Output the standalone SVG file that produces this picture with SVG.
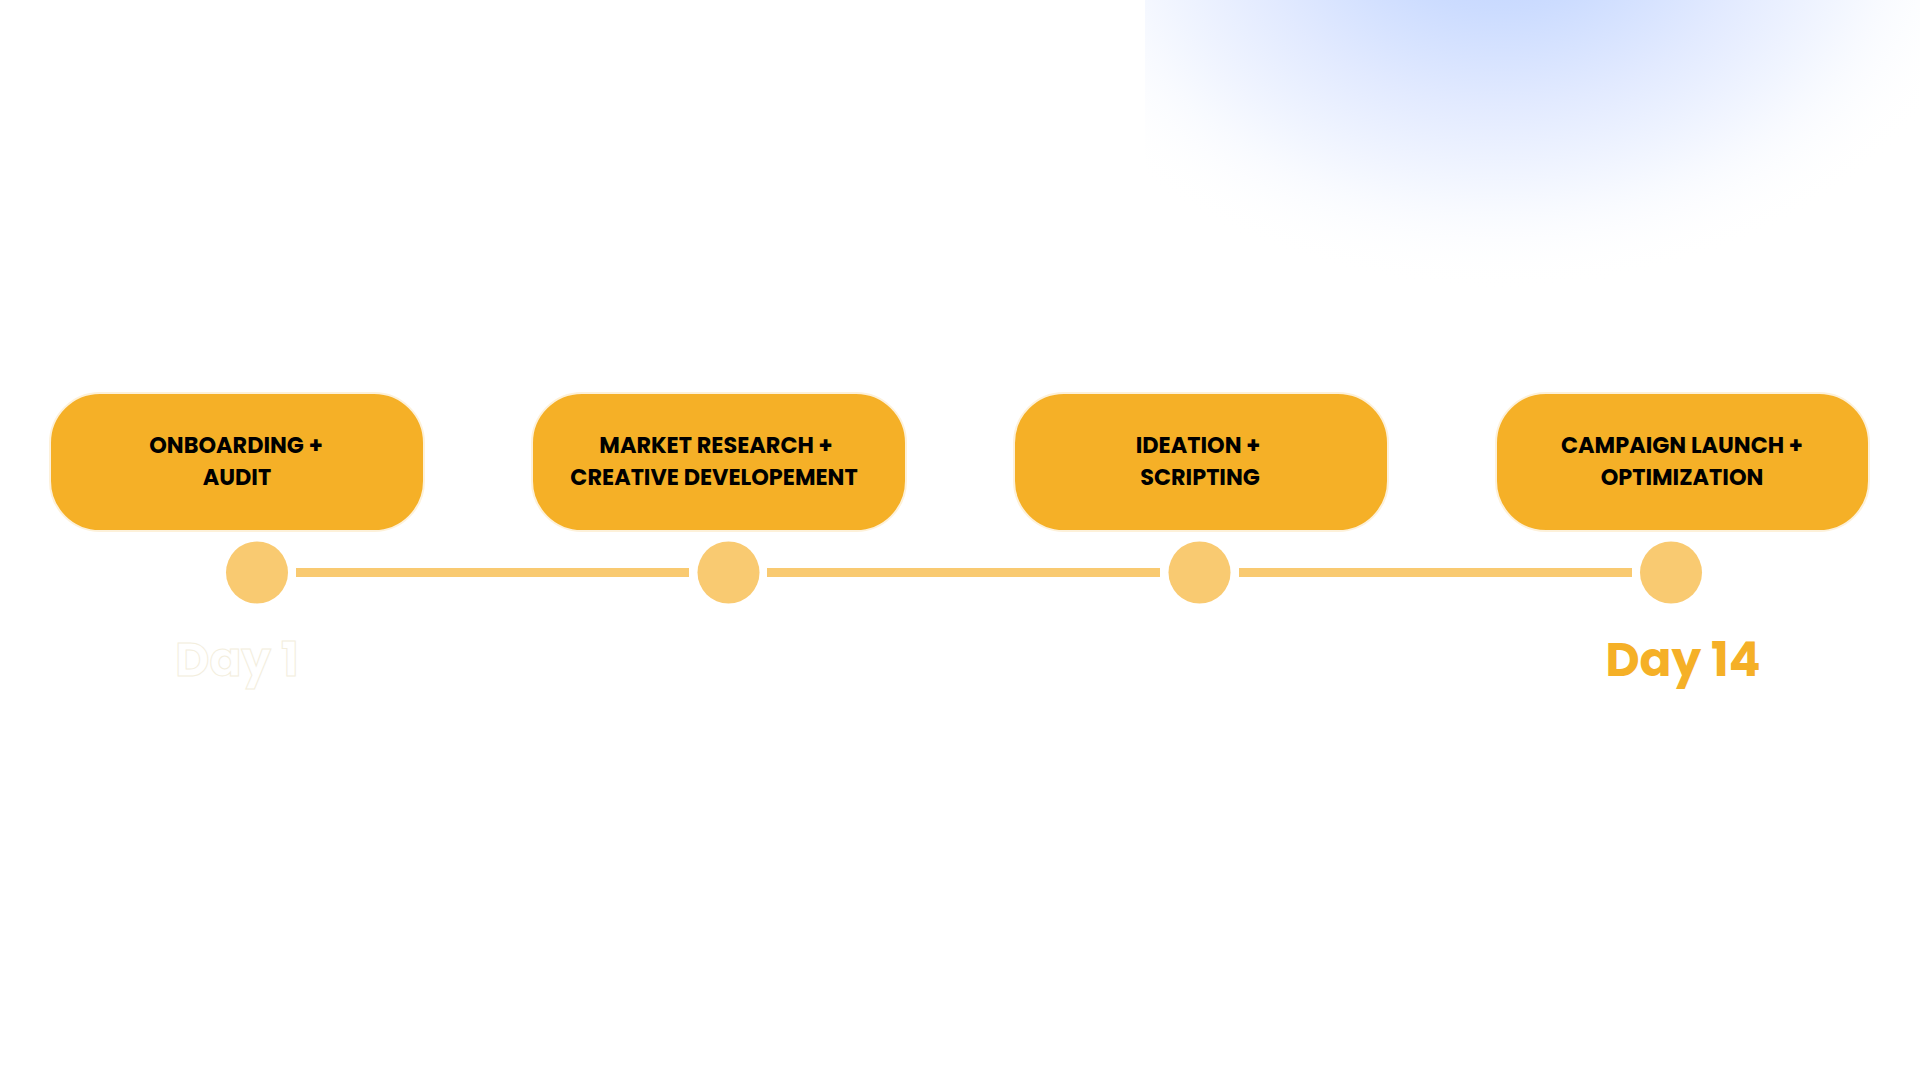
<svg xmlns="http://www.w3.org/2000/svg" width="1920" height="1080" viewBox="0 0 1920 1080">
<style>
.box{fill:#F5B027;stroke:#FDF1DA;stroke-width:2}
.lbl{font-family:Poppins,Inter,"Noto Sans",sans-serif;font-weight:700;font-size:22.4px;fill:#000;text-anchor:middle}
.dot{fill:#F9CA71}
.seg{stroke:#F9CA71;stroke-width:9}
.day{font-family:Poppins,Inter,"Noto Sans",sans-serif;font-weight:700;font-size:47px;text-anchor:middle}
</style>
<defs>
<radialGradient id="glow" gradientUnits="userSpaceOnUse" cx="0" cy="0" r="1" gradientTransform="translate(1500,-80) scale(500,370)">
<stop offset="0" stop-color="#BCD0FF"/>
<stop offset="0.25" stop-color="#CCDCFF"/>
<stop offset="0.5" stop-color="#E2EAFF"/>
<stop offset="0.75" stop-color="#F5F8FF"/>
<stop offset="1" stop-color="#FFFFFF" stop-opacity="0"/>
</radialGradient>
<clipPath id="gclip"><rect x="1145" y="0" width="775" height="400"/></clipPath>
</defs>
<rect x="0" y="0" width="1920" height="1080" fill="#FFFFFF"/>
<rect x="1145" y="0" width="775" height="400" fill="url(#glow)" clip-path="url(#gclip)"/>
<g id="connectors">
<line class="seg" x1="296" y1="572.5" x2="689" y2="572.5"/>
<line class="seg" x1="767" y1="572.5" x2="1160" y2="572.5"/>
<line class="seg" x1="1239" y1="572.5" x2="1632" y2="572.5"/>
</g>
<g id="node-1">
<rect class="box" x="50" y="393" width="374" height="138" rx="50"/>
<text class="lbl" x="236" y="453">ONBOARDING +</text>
<text class="lbl" x="237" y="485">AUDIT</text>
<circle class="dot" cx="257" cy="572.5" r="31"/>
</g>
<g id="node-2">
<rect class="box" x="532" y="393" width="374" height="138" rx="50"/>
<text class="lbl" x="716" y="453">MARKET RESEARCH +</text>
<text class="lbl" x="714" y="485">CREATIVE DEVELOPEMENT</text>
<circle class="dot" cx="728.5" cy="572.5" r="31"/>
</g>
<g id="node-3">
<rect class="box" x="1014" y="393" width="374" height="138" rx="50"/>
<text class="lbl" x="1198" y="453">IDEATION +</text>
<text class="lbl" x="1200" y="485">SCRIPTING</text>
<circle class="dot" cx="1199.5" cy="572.5" r="31"/>
</g>
<g id="node-4">
<rect class="box" x="1496" y="393" width="373" height="138" rx="50"/>
<text class="lbl" x="1682" y="453">CAMPAIGN LAUNCH +</text>
<text class="lbl" x="1682" y="485">OPTIMIZATION</text>
<circle class="dot" cx="1671" cy="572.5" r="31"/>
</g>
<text class="day" x="237" y="676" fill="#FFFFFF" stroke="#F3EEDD" stroke-width="1">Day 1</text>
<text class="day" x="1683" y="676" fill="#F5B027">Day 14</text>
</svg>
